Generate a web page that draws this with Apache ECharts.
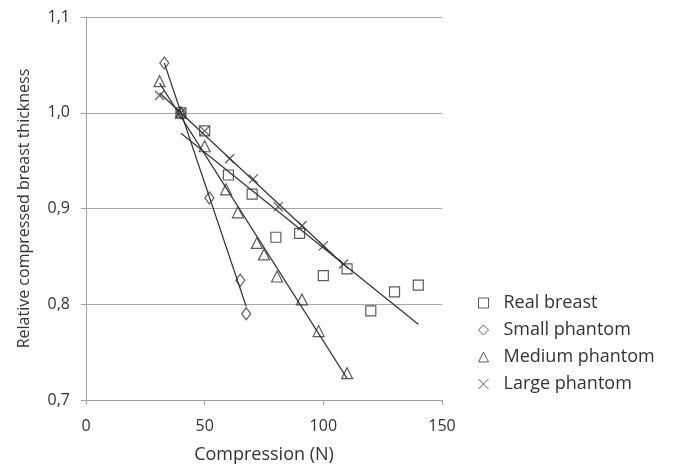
<!DOCTYPE html>
<html><head><meta charset="utf-8">
<script src="https://cdn.jsdelivr.net/npm/echarts@6/dist/echarts.min.js"></script>
<style>html,body{margin:0;padding:0;background:#fff}#c{width:673px;height:472px}</style>
</head><body><div id="c"></div>
<script>
var xTicks = [0, 50, 100, 150];
var yTicks = [0.7, 0.8, 0.9, 1.0, 1.1];
var seriesNames = ['Real breast', 'Small phantom', 'Medium phantom', 'Large phantom'];
var realX = [40, 50, 60, 70, 80, 90, 100, 110, 120, 130, 140];
var realY = [1.0, 0.981, 0.935, 0.915, 0.870, 0.874, 0.830, 0.837, 0.793, 0.813, 0.820];
var smallX = [33, 40, 52, 65, 67.5];
var smallY = [1.052, 1.0, 0.911, 0.825, 0.790];
var mediumX = [31, 40, 50, 59, 64, 72, 75, 80.5, 91, 98, 110];
var mediumY = [1.033, 1.0, 0.965, 0.920, 0.896, 0.864, 0.852, 0.829, 0.805, 0.772, 0.728];
var largeX = [31, 40, 50, 60.5, 70.5, 81, 91, 100, 108.5];
var largeY = [1.018, 1.0, 0.981, 0.952, 0.931, 0.902, 0.882, 0.861, 0.842];

function pairs(xs, ys) { return xs.map(function (x, i) { return [x, ys[i]]; }); }
function trend(xs, ys) {
  var n = xs.length, mx = 0, my = 0;
  for (var i = 0; i < n; i++) { mx += xs[i]; my += ys[i]; }
  mx /= n; my /= n;
  var sxy = 0, sxx = 0;
  for (i = 0; i < n; i++) { sxy += (xs[i] - mx) * (ys[i] - my); sxx += (xs[i] - mx) * (xs[i] - mx); }
  var b = sxy / sxx, a = my - b * mx;
  var x0 = Math.min.apply(null, xs), x1 = Math.max.apply(null, xs);
  return [[x0, a + b * x0], [x1, a + b * x1]];
}
var ink = '#333';
var crossPath = 'path://M0,0L10,10M10,0L0,10';
var symbols = ['rect', 'diamond', 'triangle', crossPath];
var sizes = [10, [9, 12], 11, 9];
var xsAll = [realX, smallX, mediumX, largeX];
var ysAll = [realY, smallY, mediumY, largeY];

var series = [];
seriesNames.forEach(function (nm, k) {
  series.push({
    name: nm, type: 'scatter', data: pairs(xsAll[k], ysAll[k]),
    symbol: symbols[k], symbolSize: sizes[k],
    itemStyle: { color: 'rgba(0,0,0,0)', borderColor: ink, borderWidth: 1.2 },
    z: 3
  });
});
seriesNames.forEach(function (nm, k) {
  series.push({
    type: 'line', data: trend(xsAll[k], ysAll[k]), showSymbol: false, silent: true,
    lineStyle: { color: ink, width: 1.2 }, z: 2
  });
});

var chart = echarts.init(document.getElementById('c'));
chart.setOption({
  animation: false,
  textStyle: { fontFamily: 'Open Sans', color: '#333' },
  grid: { left: 86, right: 231, top: 17, bottom: 72, containLabel: false, outerBoundsMode: 'none' },
  xAxis: {
    type: 'value', min: xTicks[0], max: xTicks[xTicks.length - 1], interval: 50,
    name: 'Compression (N)', nameLocation: 'middle', nameGap: 46,
    nameTextStyle: { fontSize: 18, color: '#333', fontFamily: 'Open Sans' },
    axisLine: { lineStyle: { color: '#a0a0a0' } },
    axisTick: { show: true, inside: false, length: 5, lineStyle: { color: '#a0a0a0' } },
    axisLabel: { fontSize: 16, color: '#333', margin: 18 },
    splitLine: { show: false }
  },
  yAxis: {
    type: 'value', min: yTicks[0], max: yTicks[yTicks.length - 1], interval: 0.1,
    name: 'Relative compressed breast thickness', nameLocation: 'middle', nameGap: 54,
    nameTextStyle: { fontSize: 16, color: '#333', fontFamily: 'Open Sans' },
    axisLine: { show: true, lineStyle: { color: '#a0a0a0' } },
    axisTick: { show: true, inside: false, length: 5, lineStyle: { color: '#a0a0a0' } },
    axisLabel: { fontSize: 16, color: '#333', margin: 16, formatter: function (v) { return v.toFixed(1).replace('.', ','); } },
    splitLine: { show: true, lineStyle: { color: '#a6a6a6', width: 1 } }
  },
  legend: {
    orient: 'vertical', left: 473, top: 289, itemGap: 9, itemWidth: 10, itemHeight: 10,
    textStyle: { fontSize: 18, color: '#333', lineHeight: 18, padding: [0, 0, 0, 10] },
    data: seriesNames.map(function (nm, k) {
      return { name: nm, icon: symbols[k], itemStyle: { color: 'rgba(0,0,0,0)', borderColor: ink, borderWidth: 1 } };
    })
  },
  series: series
});
</script></body></html>
